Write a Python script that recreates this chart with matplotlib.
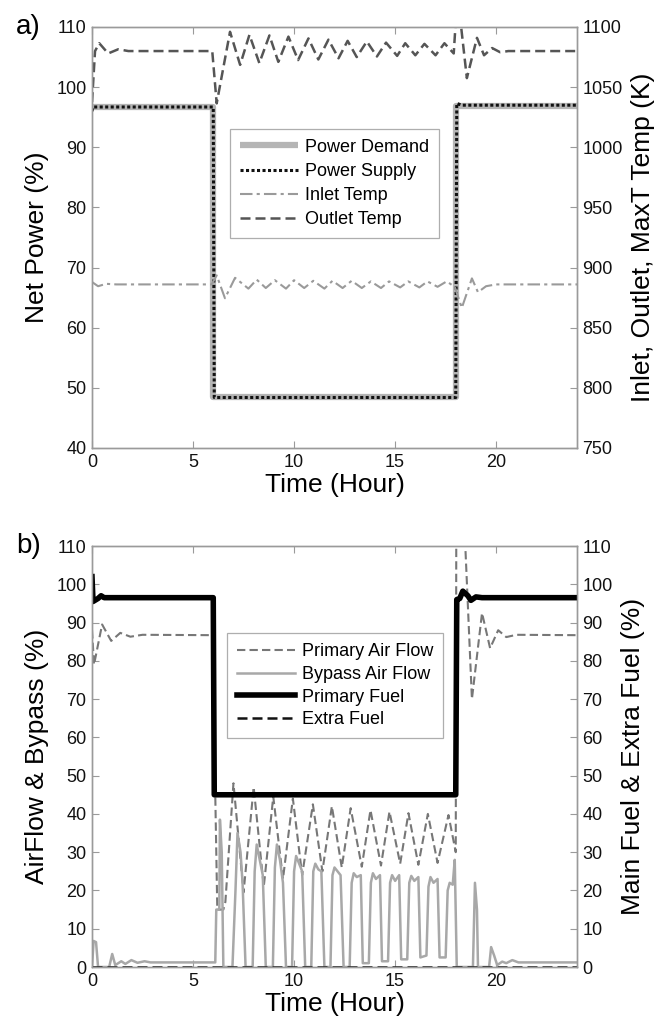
import matplotlib
matplotlib.use("Agg")
import matplotlib.pyplot as plt

plt.rcParams['font.family'] = ['Liberation Sans', 'DejaVu Sans']

# ---------------- Panel a) data ----------------
demand_t = [0, 6, 6, 18, 18, 24]
demand_v = [96.7, 96.7, 48.4, 48.4, 96.9, 96.9]

supply_t = [0, 0.05, 6.0, 6.05, 18.0, 18.05, 18.3, 24]
supply_v = [96.0, 96.7, 96.7, 48.4, 48.4, 97.3, 97.0, 97.0]

inlet_t = [0, 0.3, 0.7, 1.2, 5.92, 6.17, 6.58, 7.08, 7.74, 8.15, 8.6, 9.05, 9.6,
           10.0, 10.5, 10.95, 11.5, 11.9, 12.4, 12.85, 13.35, 13.8, 14.3, 14.7,
           15.25, 15.65, 16.2, 16.6, 17.1, 17.55, 17.95, 18.3, 18.8, 19.1, 19.5,
           20.0, 24]
inlet_k = [888, 884.5, 886.5, 886, 886, 893.5, 874.5, 891.5, 882.5, 890, 883,
           889.5, 882.5, 889.5, 883, 889, 882.5, 889, 883, 889, 883, 888.5, 883,
           888.5, 883.5, 888.5, 883.5, 888.5, 884, 888.5, 884, 866.5, 891, 879.5,
           884.5, 886, 886]

outlet_t = [0, 0.15, 0.36, 0.8, 1.3, 1.8, 5.95, 6.17, 6.83, 7.33, 7.79, 8.28,
            8.78, 9.22, 9.72, 10.2, 10.71, 11.2, 11.7, 12.2, 12.65, 13.1, 13.6,
            14.1, 14.55, 15.1, 15.5, 16.0, 16.45, 17.0, 17.44, 17.9, 18.02, 18.1,
            18.2, 18.55, 19.05, 19.4, 19.8, 20.2, 20.6, 24]
outlet_k = [1037.5, 1080, 1086.5, 1078, 1081.5, 1080, 1080, 1036.5, 1096, 1068.5,
            1093.5, 1070, 1093, 1071, 1092, 1072.5, 1090.5, 1073, 1089.5, 1074,
            1088.5, 1075, 1088, 1075.5, 1087, 1076, 1086.5, 1076.5, 1086, 1076.5,
            1086.5, 1078, 1110, 1125, 1110, 1057.5, 1091, 1076.5, 1082.5, 1079,
            1080, 1080]

# ---------------- Panel b) data ----------------
air_t = [0, 0.1, 0.5, 0.95, 1.4, 1.9, 2.5, 6.0, 6.1, 6.2, 6.5, 6.6, 7.0, 7.5,
         8.0, 8.5, 8.97, 9.45, 9.94, 10.4, 10.93, 11.4, 11.87, 12.36, 12.8,
         13.35, 13.78, 14.3, 14.72, 15.25, 15.66, 16.15, 16.62, 17.1, 17.64,
         18.0, 18.03, 18.35, 18.8, 19.3, 19.7, 20.1, 20.5, 21.0, 24]
air_v = [88, 79, 89.5, 85.2, 87.3, 86.3, 86.8, 86.7, 45, 15, 15, 17, 48, 19.5,
         47, 21, 44.5, 23, 44, 24, 42.5, 25, 42, 26, 41.5, 26.2, 41, 26.5, 40.6,
         27, 40.2, 26.7, 40, 27.2, 39.7, 30, 125, 125, 70, 92.5, 83.3, 88, 86.2,
         86.8, 86.7]

bypass_t = [0, 0.08, 0.2, 0.3, 0.85, 1.0, 1.15, 1.45, 1.65, 1.95, 2.25, 2.6, 2.9,
            6.1, 6.15, 6.3, 6.33, 6.42, 6.5, 6.95, 7.1, 7.2, 7.35, 7.45, 7.6,
            7.95, 8.05, 8.15, 8.3, 8.45, 8.6, 8.95, 9.05, 9.15, 9.3, 9.45, 9.6,
            9.9, 10.0, 10.1, 10.25, 10.4, 10.55, 10.85, 10.95, 11.05, 11.2, 11.35,
            11.5, 11.8, 11.9, 12.0, 12.15, 12.3, 12.45, 12.75, 12.85, 12.95, 13.1,
            13.3, 13.4, 13.7, 13.8, 13.9, 14.05, 14.25, 14.35, 14.65, 14.75, 14.85,
            15.0, 15.2, 15.3, 15.6, 15.7, 15.8, 15.95, 16.15, 16.25, 16.55, 16.65,
            16.75, 16.9, 17.1, 17.2, 17.5, 17.6, 17.7, 17.85, 17.95, 18.05, 18.85,
            18.95, 19.05, 19.1, 19.65, 19.75, 19.9, 20.05, 20.3, 20.5, 20.8, 21.1, 24]
bypass_v = [0, 6.8, 6.5, 0, 0, 3.4, 0.5, 1.5, 0.8, 1.8, 1.1, 1.5, 1.2,
            1.2, 15, 15, 38.5, 30, 0, 0, 20, 35, 30, 22, 0,
            0, 25, 32, 28, 24, 0, 0, 26, 32, 28, 22, 0,
            0, 25, 29, 27, 25, 0, 0, 25, 27, 25.5, 25,
            0, 0, 24, 26, 25, 24, 0, 0, 22, 24.5, 23.5,
            24, 1, 1, 22, 24.5, 23, 24, 1.5, 1.5, 22, 24,
            22.5, 24, 2, 2, 22, 23.8, 22.5, 23.5, 2.5, 3, 21,
            23.5, 22, 23, 2.5, 2.5, 20, 22, 21.5, 28, 0, 0,
            22, 15, 0, 0, 5.2, 3, 0.5, 1.4, 1.0, 1.8, 1.2, 1.2]

fuel_t = [0, 0.05, 0.3, 0.45, 0.6, 6.0, 6.05, 18.0, 18.05, 18.2, 18.35, 18.6,
          18.75, 19.0, 19.3, 24]
fuel_v = [102, 95.5, 96.3, 97, 96.5, 96.5, 45, 45, 96, 96.3, 98.2, 97, 95.8,
          96.7, 96.5, 96.5]

extra_t = [0, 24]
extra_v = [0, 0]

x_ticks = [0, 5, 10, 15, 20]

# ---------------- Figure ----------------
fig = plt.figure(figsize=(6.59, 10.22), dpi=100)
spine_c = '#9a9a9a'
tick_fs = 13
lab_fs = 19
leg_fs = 13


def style(ax):
    for s in ax.spines.values():
        s.set_color(spine_c)
        s.set_linewidth(1.0)
    ax.tick_params(direction='in', length=5, width=0.8, color=spine_c,
                   labelsize=tick_fs, labelcolor='#111111', pad=4)


# Panel a
ax1 = fig.add_axes([92/659, 1-448/1022, 485/659, 421/1022])
ax1r = ax1.twinx()
h1, = ax1.plot(demand_t, demand_v, color='#b5b5b5', lw=4.5, solid_capstyle='butt')
h2, = ax1.plot(supply_t, supply_v, color='#111111', lw=2.2, ls=(0, (1, 0.8)))
h3, = ax1r.plot(inlet_t, inlet_k, color='#9a9a9a', lw=1.5, ls=(0, (6, 2, 1.5, 2)))
h4, = ax1r.plot(outlet_t, outlet_k, color='#555555', lw=1.8, ls=(0, (4, 2)))
ax1.set_xlim(0, 24)
ax1.set_ylim(40, 110)
ax1r.set_ylim(750, 1100)
ax1.set_xticks(x_ticks)
ax1.set_yticks(range(40, 111, 10))
ax1r.set_yticks(range(750, 1101, 50))
ax1.xaxis.set_ticks_position('both')
style(ax1)
style(ax1r)
ax1.set_xlabel('Time (Hour)', fontsize=lab_fs, labelpad=2)
ax1.set_ylabel('Net Power (%)', fontsize=lab_fs, labelpad=5)
ax1r.set_ylabel('Inlet, Outlet, MaxT Temp (K)', fontsize=lab_fs, labelpad=6)
leg1 = ax1r.legend([h1, h2, h3, h4],
                   ['Power Demand', 'Power Supply', 'Inlet Temp', 'Outlet Temp'],
                   loc='upper left', bbox_to_anchor=(0.285, 0.758), borderaxespad=0,
                   fontsize=leg_fs, frameon=True, fancybox=False, handlelength=3.2,
                   labelspacing=0.4, borderpad=0.55, handletextpad=0.4)
leg1.get_frame().set_edgecolor(spine_c)
leg1.get_frame().set_linewidth(0.9)
fig.text(0.024, 1-27/1022, 'a)', fontsize=20, va='center', ha='left')

# Panel b
ax2 = fig.add_axes([92/659, 1-967/1022, 485/659, 421/1022])
ax2r = ax2.twinx()
g1, = ax2.plot(air_t, air_v, color='#777777', lw=1.5, ls=(0, (4, 2)))
g2, = ax2.plot(bypass_t, bypass_v, color='#a8a8a8', lw=1.8)
g3, = ax2r.plot(fuel_t, fuel_v, color='black', lw=4)
g4, = ax2r.plot(extra_t, extra_v, color='#111111', lw=1.8, ls=(0, (4, 2)))
ax2.set_xlim(0, 24)
ax2.set_ylim(0, 110)
ax2r.set_ylim(0, 110)
ax2.set_xticks(x_ticks)
ax2.set_yticks(range(0, 111, 10))
ax2r.set_yticks(range(0, 111, 10))
ax2.xaxis.set_ticks_position('both')
style(ax2)
style(ax2r)
ax2.set_xlabel('Time (Hour)', fontsize=lab_fs, labelpad=2)
ax2.set_ylabel('AirFlow & Bypass (%)', fontsize=lab_fs, labelpad=5)
ax2r.set_ylabel('Main Fuel & Extra Fuel (%)', fontsize=lab_fs, labelpad=6)
leg2 = ax2r.legend([g1, g2, g3, g4],
                   ['Primary Air Flow', 'Bypass Air Flow', 'Primary Fuel', 'Extra Fuel'],
                   loc='upper left', bbox_to_anchor=(0.278, 0.793), borderaxespad=0,
                   fontsize=leg_fs, frameon=True, fancybox=False, handlelength=3.2,
                   labelspacing=0.32, borderpad=0.55, handletextpad=0.4)
leg2.get_frame().set_edgecolor(spine_c)
leg2.get_frame().set_linewidth(0.9)
fig.text(0.024, 1-546/1022, 'b)', fontsize=20, va='center', ha='left')

fig.savefig('out.png', dpi=100)
